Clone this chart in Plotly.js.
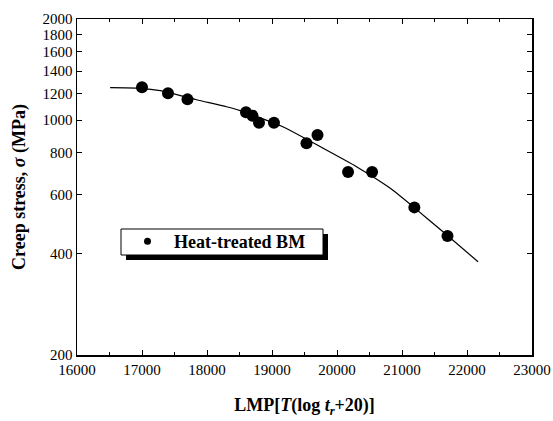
<!DOCTYPE html>
<html>
<head>
<meta charset="utf-8">
<script src="https://cdn.plot.ly/plotly-3.0.1.min.js"></script>
<style>html,body{margin:0;padding:0;background:#fff;}#chart{width:553px;height:421px;}</style>
</head>
<body>
<div id="chart"></div>
<script>
// Measured data: Heat-treated BM
var lmp = [17000, 17400, 17700, 18600, 18700, 18800, 19030, 19530, 19700, 20170, 20540, 21190, 21700];
var stress = [1252, 1202, 1153, 1055, 1031, 982, 982, 853, 903, 701, 701, 550, 452];

// Fitted curve
var fitLmp = [16510, 16970, 17280, 17840, 18300, 18510, 19150, 19790, 20300, 20820, 21170, 21690, 22170];
var fitStress = [1249, 1244, 1224, 1150, 1096, 1067, 959, 824, 727, 627, 553, 455, 379];

var yTicks = [200, 400, 600, 800, 1000, 1200, 1400, 1600, 1800, 2000];
var xTicks = [16000, 17000, 18000, 19000, 20000, 21000, 22000, 23000];

var serif = "Liberation Serif";

// pixel -> paper helpers for the plot area (l=77, t=19, w=455, h=336)
function pxX(p) { return (p - 77) / 455; }
function pxY(p) { return (355 - p) / 336; }

var traces = [
  {x: fitLmp, y: fitStress, mode: 'lines', line: {color: '#000', width: 1.2, shape: 'spline', smoothing: 0.6}, showlegend: false, hoverinfo: 'skip'},
  {x: lmp, y: stress, mode: 'markers', marker: {color: '#000', size: 12}, showlegend: false},
  {x: [null], y: [null], mode: 'markers', marker: {color: '#000', size: 7}, name: '<b>Heat-treated BM</b>', showlegend: true}
];

var layout = {
  width: 553, height: 421,
  margin: {l: 77, r: 21, t: 19, b: 66},
  paper_bgcolor: '#fff', plot_bgcolor: '#fff',
  font: {family: serif, color: '#000', size: 15},
  showlegend: true,
  legend: {
    x: pxX(121), y: pxY(223), xanchor: 'left', yanchor: 'top',
    bgcolor: 'rgba(0,0,0,0)', borderwidth: 0,
    font: {family: serif, size: 18, color: '#000'},
    itemwidth: 43, tracegroupgap: 0
  },
  shapes: [
    {type: 'rect', xref: 'paper', yref: 'paper', layer: 'above',
     x0: pxX(126), x1: pxX(328), y0: pxY(260), y1: pxY(234),
     fillcolor: '#000', line: {width: 0}},
    {type: 'rect', xref: 'paper', yref: 'paper', layer: 'above',
     x0: pxX(121), x1: pxX(323), y0: pxY(255), y1: pxY(229),
     fillcolor: '#fff', line: {color: '#000', width: 1}}
  ],
  xaxis: {
    range: [16000, 23000], tickvals: xTicks, ticktext: xTicks.map(String),
    ticks: 'inside', ticklen: 5, tickwidth: 1, tickcolor: '#000',
    minor: {dtick: 500, tick0: 16000, ticks: 'inside', ticklen: 3, tickcolor: '#000'},
    showline: true, linecolor: '#000', linewidth: 1.5, mirror: 'ticks',
    showgrid: false, zeroline: false,
    tickfont: {family: serif, size: 15},
    title: {text: '<b>LMP[<i>T</i>(log <i>t</i><sub><i>r</i></sub>+20)]</b>', font: {family: serif, size: 18}, standoff: 22}
  },
  yaxis: {
    type: 'log', range: [Math.log10(200), Math.log10(2000)],
    tickvals: yTicks, ticktext: yTicks.map(String),
    ticks: 'inside', ticklen: 5, tickwidth: 1, tickcolor: '#000',
    showline: true, linecolor: '#000', linewidth: 1.5, mirror: 'ticks',
    showgrid: false, zeroline: false,
    tickfont: {family: serif, size: 15},
    title: {text: '<b>Creep stress, <i>σ</i> (MPa)</b>', font: {family: serif, size: 18}, standoff: 12}
  }
};

Plotly.newPlot('chart', traces, layout, {displayModeBar: false, staticPlot: true});
</script>
</body>
</html>
